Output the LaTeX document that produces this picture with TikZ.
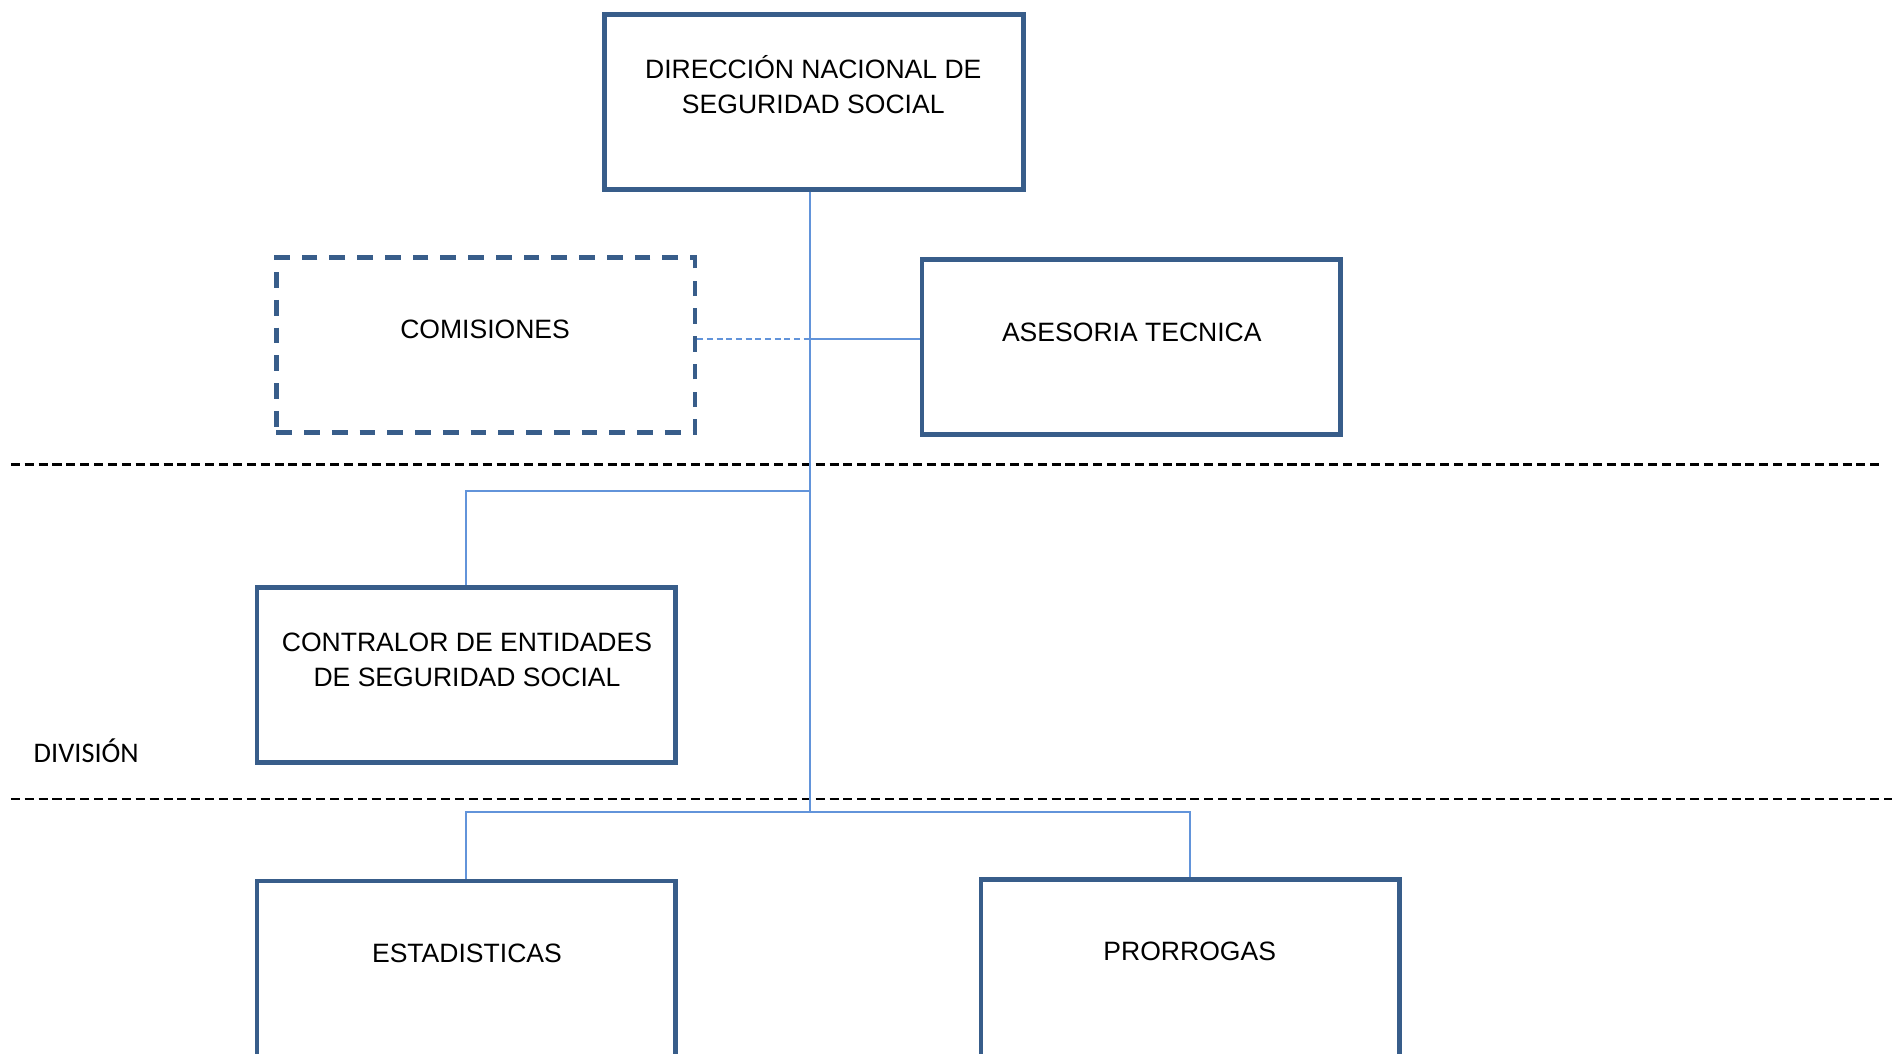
\documentclass[tikz,border=0pt]{standalone}
\usepackage{fontspec}
\setmainfont{Liberation Sans}
\newfontfamily\calib{Carlito}
\definecolor{boxblue}{RGB}{56,93,138}
\definecolor{linkblue}{RGB}{98,148,218}
\begin{document}
\begin{tikzpicture}[x=1pt,y=-1pt,
  unit/.style={draw=boxblue,line width=3.8pt,rectangle,minimum width=347pt,minimum height=145pt,inner sep=0pt},
  comm/.style={unit,dash pattern=on 13pt off 10pt},
  conn/.style={draw=linkblue,line width=1.5pt},
  connd/.style={conn,dash pattern=on 5pt off 3pt},
  divider/.style={draw=black,line width=1.8pt,dash pattern=on 7.5pt off 4pt},
  lbl/.style={font=\fontsize{22}{29}\selectfont,align=center,anchor=base,inner sep=0pt},
  lbl2/.style={font=\calib\fontsize{23.5}{28}\selectfont,anchor=base,inner sep=0pt}]
\useasboundingbox (0,0) rectangle (1568,873.5);
% boxes
\node[unit] (top) at (674.5,84.5) {};
\node[comm] (com) at (402.5,286) {};
\node[unit] (ases) at (937.5,287.5) {};
\node[unit] (contr) at (386.5,559.5) {};
\node[unit,minimum height=170pt] (esta) at (386.5,815) {};
\node[unit,minimum height=170pt] (pror) at (986.5,814) {};
% labels
\node[lbl] (ttop) at (674,93.8) {DIRECCIÓN NACIONAL DE\\SEGURIDAD SOCIAL};
\node[lbl] (tcom) at (402,280.8) {COMISIONES};
\node[lbl] (tases) at (938,282.8) {ASESORIA TECNICA};
\node[lbl] (tcontr) at (387,568.8) {CONTRALOR DE ENTIDADES\\DE SEGURIDAD SOCIAL};
\node[lbl] (testa) at (387,797.8) {ESTADISTICAS};
\node[lbl] (tpror) at (986,795.8) {PRORROGAS};
\node[lbl2] (tdiv) at (71.5,631.5) {DIVISIÓN};
% dividers
\coordinate (d1a) at (9,385);
\coordinate (d1b) at (1560,385);
\coordinate (d2a) at (9,662);
\coordinate (d2b) at (1568,662);
\draw[divider] (d1a) -- (d1b);
\draw[divider] (d2a) -- (d2b);
% connectors
\coordinate (j1) at (671,281);
\coordinate (j2) at (671,407);
\coordinate (j3) at (671,673);
\draw[conn] (top.south -| j1) -- (j3);
\draw[conn] (j1) -- (ases.west |- j1);
\draw[connd] (com.east |- j1) -- (j1);
\draw[conn] (j2) -| (contr.north);
\draw[conn] (esta.north) |- (j3) -| (pror.north);
\end{tikzpicture}
\end{document}
